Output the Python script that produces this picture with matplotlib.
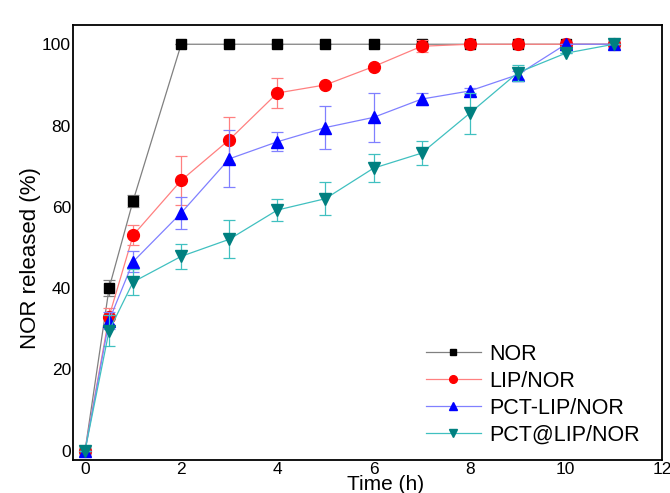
import matplotlib
matplotlib.use('Agg')
import matplotlib.pyplot as plt

plt.rcParams['font.family'] = ['Liberation Sans', 'DejaVu Sans']

time_h = [0, 0.5, 1, 2, 3, 4, 5, 6, 7, 8, 9, 10, 11]

nor = [0, 40, 61.5, 100, 100, 100, 100, 100, 100, 100, 100, 100, 100]
nor_err = [0, 2, 1.5, 0, 0, 0, 0, 0, 0, 0, 0, 0, 0]

lip_nor = [0, 33, 53, 66.5, 76.5, 88, 90, 94.5, 99.5, 100, 100, 100, 100]
lip_nor_err = [0, 2, 2.5, 6, 5.7, 3.7, 0, 0, 1.5, 0, 0, 0, 0]

pct_lip_nor = [0, 32, 46.5, 58.5, 71.8, 76, 79.5, 82, 86.5, 88.5, 92.5, 100, 100]
pct_lip_nor_err = [0, 2, 2.5, 4, 7, 2.3, 5.3, 6, 1.5, 0.8, 1, 0, 0]

pct_at_lip_nor = [0, 29.5, 41.5, 47.8, 52, 59.2, 62, 69.5, 73.2, 83, 93, 97.8, 100]
pct_at_lip_nor_err = [0, 3.8, 3.3, 3, 4.7, 2.8, 4, 3.5, 3, 5, 2, 0, 0]

series = [
    ('NOR', nor, nor_err, 's', 'black', '#808080', 6.5),
    ('LIP/NOR', lip_nor, lip_nor_err, 'o', 'red', '#ff8080', 8.5),
    ('PCT-LIP/NOR', pct_lip_nor, pct_lip_nor_err, '^', 'blue', '#8080ff', 9),
    ('PCT@LIP/NOR', pct_at_lip_nor, pct_at_lip_nor_err, 'v', '#008080', '#40c0c0', 9),
]

fig, ax = plt.subplots(figsize=(6.7, 4.93), dpi=100)
fig.subplots_adjust(left=0.109, right=0.988, top=0.949, bottom=0.067)

for label, y, err, mk, mc, lc, ms in series:
    ax.errorbar(time_h, y, yerr=err, fmt='none', ecolor=lc, elinewidth=0.9,
                capsize=4, capthick=0.9)
    ax.plot(time_h, y, '-', color=lc, lw=0.9, marker=mk, ms=ms,
            mfc=mc, mec=mc, label=label)

ax.set_xlim(-0.25, 12)
ax.set_ylim(-2.3, 104.7)
ax.set_xticks(range(0, 13, 2))
ax.set_yticks(range(0, 101, 20))
ax.tick_params(length=0, labelsize=12.5, pad=1.5)
for s in ax.spines.values():
    s.set_linewidth(1.3)
ax.set_xlabel('Time (h)', fontsize=15)
ax.set_ylabel('NOR released (%)', fontsize=16)
ax.xaxis.set_label_coords(0.53, -0.035, transform=ax.transAxes)
ax.xaxis.label.set_verticalalignment('top')
ax.yaxis.set_label_coords(-0.055, 0.464, transform=ax.transAxes)

leg = ax.legend(loc='lower right', fontsize=15.5, frameon=False, markerscale=0.65,
                handlelength=2.6, labelspacing=0.28, handletextpad=0.35,
                bbox_to_anchor=(0.995, -0.012))

fig.savefig('out.png', dpi=100)
